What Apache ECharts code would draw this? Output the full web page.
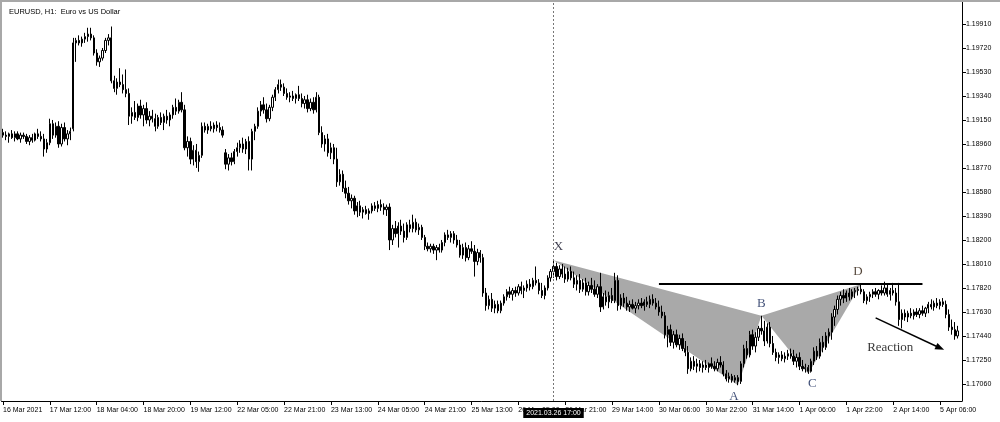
<!DOCTYPE html>
<html>
<head>
<meta charset="utf-8">
<script src="https://cdn.jsdelivr.net/npm/echarts@6/dist/echarts.min.js"></script>
<style>
html,body{margin:0;padding:0;background:#fff;}
#chart{width:1000px;height:422px;}
</style>
</head>
<body>
<div id="chart"></div>
<script>
// ---- data ----
const chartTitle = 'EURUSD, H1:  Euro vs US Dollar';
const tickLabels = ['16 Mar 2021','17 Mar 12:00','18 Mar 04:00','18 Mar 20:00','19 Mar 12:00','22 Mar 05:00','22 Mar 21:00','23 Mar 13:00','24 Mar 05:00','24 Mar 21:00','25 Mar 13:00','26 Mar 05:00','26 Mar 21:00','29 Mar 14:00','30 Mar 06:00','30 Mar 22:00','31 Mar 14:00','1 Apr 06:00','1 Apr 22:00','2 Apr 14:00','5 Apr 06:00'];
const tickEvery = 16;
const yTicks = [1.17060,1.17250,1.17440,1.17630,1.17820,1.18010,1.18200,1.18390,1.18580,1.18770,1.18960,1.19150,1.19340,1.19530,1.19720,1.19910];
const yMin = 1.16925, yMax = 1.20084;
const crossBar = 188;
const crossLabel = '2021.03.26 17:00';
// [open, high, low, close] per hourly bar
const ohlc = [
[1.1905,1.1908,1.1901,1.1903],[1.1903,1.1906,1.1899,1.1902],[1.1902,1.1905,1.1897,1.1904],[1.1904,1.1907,1.1900,1.1901],[1.1901,1.1906,1.1898,1.1904],
[1.1904,1.1906,1.1899,1.1900],[1.1900,1.1905,1.1897,1.1903],[1.1903,1.1905,1.1900,1.1902],[1.1902,1.1904,1.1896,1.1898],[1.1898,1.1903,1.1895,1.1901],
[1.1901,1.1904,1.1897,1.1899],[1.1899,1.1905,1.1898,1.1904],[1.1904,1.1908,1.1900,1.1902],[1.1902,1.1906,1.1898,1.1900],[1.1900,1.1904,1.1886,1.1892],
[1.1892,1.1900,1.1889,1.1897],[1.1897,1.1916,1.1895,1.1912],[1.1912,1.1915,1.1900,1.1903],[1.1903,1.1913,1.1901,1.1910],[1.1910,1.1914,1.1893,1.1896],
[1.1896,1.1912,1.1894,1.1909],[1.1909,1.1913,1.1898,1.1900],[1.1900,1.1907,1.1895,1.1904],[1.1904,1.1909,1.1899,1.1906],[1.1908,1.1980,1.1906,1.1976],
[1.1976,1.1980,1.1961,1.1978],[1.1978,1.1982,1.1974,1.1976],[1.1976,1.1981,1.1973,1.1979],[1.1979,1.1984,1.1976,1.1981],[1.1981,1.1988,1.1977,1.1983],
[1.1983,1.1988,1.1978,1.1980],[1.1980,1.1982,1.1966,1.1968],[1.1968,1.1971,1.1958,1.1961],[1.1961,1.1966,1.1957,1.1964],[1.1964,1.1972,1.1962,1.1970],
[1.1970,1.1980,1.1968,1.1978],[1.1978,1.1983,1.1974,1.1980],[1.1980,1.1989,1.1944,1.1946],[1.1946,1.1950,1.1937,1.1940],[1.1940,1.1948,1.1935,1.1945],
[1.1945,1.1956,1.1941,1.1943],[1.1943,1.1951,1.1936,1.1939],[1.1939,1.1955,1.1933,1.1936],[1.1936,1.1940,1.1911,1.1918],[1.1918,1.1925,1.1912,1.1921],
[1.1921,1.1930,1.1915,1.1917],[1.1917,1.1928,1.1914,1.1926],[1.1926,1.1931,1.1916,1.1919],[1.1919,1.1927,1.1910,1.1924],[1.1924,1.1929,1.1912,1.1915],
[1.1915,1.1922,1.1910,1.1918],[1.1918,1.1923,1.1913,1.1916],[1.1916,1.1920,1.1906,1.1910],[1.1910,1.1919,1.1908,1.1917],[1.1917,1.1921,1.1911,1.1913],
[1.1913,1.1920,1.1907,1.1918],[1.1918,1.1923,1.1912,1.1915],[1.1915,1.1921,1.1910,1.1919],[1.1919,1.1927,1.1916,1.1925],[1.1925,1.1932,1.1919,1.1922],
[1.1922,1.1931,1.1920,1.1929],[1.1929,1.1937,1.1921,1.1923],[1.1923,1.1927,1.1891,1.1893],[1.1893,1.1902,1.1886,1.1898],[1.1898,1.1901,1.1880,1.1884],
[1.1884,1.1895,1.1879,1.1891],[1.1891,1.1896,1.1877,1.1882],[1.1882,1.1890,1.1874,1.1887],[1.1887,1.1913,1.1885,1.1910],[1.1910,1.1913,1.1905,1.1907],
[1.1907,1.1912,1.1904,1.1910],[1.1910,1.1914,1.1906,1.1908],[1.1908,1.1913,1.1905,1.1911],[1.1911,1.1914,1.1906,1.1909],[1.1909,1.1913,1.1905,1.1907],
[1.1907,1.1910,1.1901,1.1903],[1.1889,1.1892,1.1876,1.1880],[1.1880,1.1888,1.1875,1.1885],[1.1885,1.1889,1.1879,1.1882],[1.1882,1.1892,1.1880,1.1890],
[1.1890,1.1897,1.1886,1.1893],[1.1893,1.1899,1.1889,1.1896],[1.1896,1.1901,1.1889,1.1892],[1.1892,1.1900,1.1888,1.1898],[1.1898,1.1902,1.1875,1.1884],
[1.1884,1.1908,1.1875,1.1906],[1.1906,1.1912,1.1899,1.1910],[1.1910,1.1925,1.1908,1.1922],[1.1922,1.1930,1.1918,1.1927],[1.1927,1.1933,1.1920,1.1923],
[1.1923,1.1928,1.1913,1.1916],[1.1916,1.1927,1.1914,1.1925],[1.1925,1.1935,1.1922,1.1933],[1.1933,1.1941,1.1930,1.1939],[1.1939,1.1947,1.1936,1.1943],
[1.1943,1.1947,1.1938,1.1941],[1.1941,1.1944,1.1934,1.1936],[1.1936,1.1940,1.1931,1.1933],[1.1933,1.1937,1.1929,1.1934],[1.1934,1.1938,1.1930,1.1932],
[1.1932,1.1936,1.1928,1.1935],[1.1935,1.1942,1.1930,1.1932],[1.1932,1.1936,1.1925,1.1928],[1.1928,1.1934,1.1924,1.1931],[1.1931,1.1935,1.1921,1.1924],
[1.1924,1.1932,1.1922,1.1929],[1.1929,1.1933,1.1920,1.1923],[1.1923,1.1937,1.1921,1.1933],[1.1933,1.1935,1.1903,1.1905],[1.1905,1.1910,1.1893,1.1896],
[1.1896,1.1903,1.1890,1.1900],[1.1900,1.1904,1.1886,1.1889],[1.1889,1.1897,1.1884,1.1893],[1.1893,1.1896,1.1880,1.1884],[1.1884,1.1893,1.1862,1.1866],
[1.1866,1.1876,1.1863,1.1872],[1.1872,1.1875,1.1858,1.1861],[1.1861,1.1867,1.1853,1.1857],[1.1857,1.1862,1.1848,1.1851],[1.1851,1.1856,1.1845,1.1853],
[1.1853,1.1855,1.1840,1.1843],[1.1843,1.1850,1.1838,1.1847],[1.1847,1.1851,1.1839,1.1842],[1.1842,1.1846,1.1837,1.1844],[1.1844,1.1847,1.1840,1.1841],
[1.1841,1.1845,1.1836,1.1843],[1.1843,1.1849,1.1841,1.1847],[1.1847,1.1850,1.1843,1.1845],[1.1845,1.1851,1.1842,1.1848],[1.1848,1.1852,1.1843,1.1846],
[1.1846,1.1849,1.1840,1.1844],[1.1844,1.1848,1.1839,1.1846],[1.1846,1.1849,1.1812,1.1820],[1.1820,1.1832,1.1816,1.1829],[1.1829,1.1835,1.1822,1.1825],
[1.1825,1.1834,1.1814,1.1831],[1.1831,1.1836,1.1824,1.1827],[1.1827,1.1833,1.1818,1.1822],[1.1822,1.1834,1.1820,1.1832],[1.1832,1.1836,1.1826,1.1829],
[1.1829,1.1840,1.1826,1.1834],[1.1834,1.1837,1.1826,1.1828],[1.1828,1.1833,1.1824,1.1830],[1.1830,1.1832,1.1820,1.1822],[1.1822,1.1824,1.1812,1.1815],
[1.1815,1.1818,1.1811,1.1813],[1.1813,1.1817,1.1810,1.1815],[1.1815,1.1817,1.1809,1.1812],[1.1812,1.1816,1.1804,1.1814],[1.1814,1.1817,1.1810,1.1812],
[1.1812,1.1820,1.1810,1.1818],[1.1818,1.1826,1.1815,1.1824],[1.1824,1.1828,1.1820,1.1822],[1.1822,1.1827,1.1818,1.1825],[1.1825,1.1827,1.1817,1.1820],
[1.1820,1.1824,1.1814,1.1816],[1.1816,1.1820,1.1806,1.1808],[1.1808,1.1817,1.1805,1.1814],[1.1814,1.1818,1.1803,1.1806],[1.1806,1.1816,1.1804,1.1813],
[1.1813,1.1819,1.1809,1.1811],[1.1811,1.1816,1.1791,1.1803],[1.1803,1.1813,1.1800,1.1810],[1.1810,1.1812,1.1802,1.1806],[1.1806,1.1809,1.1775,1.1778],
[1.1778,1.1782,1.1764,1.1768],[1.1768,1.1776,1.1765,1.1773],[1.1773,1.1778,1.1763,1.1766],[1.1766,1.1772,1.1762,1.1769],[1.1769,1.1772,1.1762,1.1764],
[1.1764,1.1772,1.1762,1.1770],[1.1770,1.1777,1.1768,1.1775],[1.1775,1.1781,1.1772,1.1779],[1.1779,1.1783,1.1774,1.1777],[1.1777,1.1782,1.1772,1.1780],
[1.1780,1.1783,1.1775,1.1778],[1.1778,1.1785,1.1776,1.1783],[1.1783,1.1787,1.1777,1.1780],[1.1780,1.1784,1.1774,1.1782],[1.1782,1.1788,1.1779,1.1785],
[1.1785,1.1789,1.1780,1.1783],[1.1783,1.1790,1.1781,1.1788],[1.1788,1.1799,1.1784,1.1786],[1.1786,1.1789,1.1777,1.1780],[1.1780,1.1786,1.1774,1.1776],
[1.1776,1.1784,1.1773,1.1782],[1.1782,1.1792,1.1780,1.1790],[1.1790,1.1797,1.1787,1.1795],[1.1795,1.1804,1.1790,1.1799],[1.1799,1.1802,1.1788,1.1791],
[1.1791,1.1800,1.1789,1.1797],[1.1797,1.1801,1.1790,1.1793],[1.1793,1.1799,1.1786,1.1789],[1.1789,1.1798,1.1787,1.1795],[1.1795,1.1799,1.1788,1.1790],
[1.1790,1.1795,1.1782,1.1785],[1.1785,1.1792,1.1780,1.1788],[1.1788,1.1793,1.1778,1.1781],[1.1781,1.1789,1.1779,1.1786],[1.1786,1.1790,1.1776,1.1779],
[1.1779,1.1787,1.1776,1.1784],[1.1784,1.1790,1.1778,1.1781],[1.1781,1.1788,1.1775,1.1777],[1.1777,1.1785,1.1774,1.1783],[1.1783,1.1794,1.1763,1.1767],
[1.1767,1.1778,1.1765,1.1775],[1.1775,1.1780,1.1768,1.1771],[1.1771,1.1779,1.1766,1.1776],[1.1776,1.1782,1.1770,1.1772],[1.1772,1.1794,1.1770,1.1788],
[1.1788,1.1792,1.1764,1.1768],[1.1768,1.1777,1.1765,1.1774],[1.1774,1.1778,1.1767,1.1770],[1.1770,1.1775,1.1764,1.1767],[1.1767,1.1772,1.1763,1.1769],
[1.1769,1.1773,1.1765,1.1766],[1.1766,1.1771,1.1762,1.1768],[1.1768,1.1773,1.1765,1.1770],[1.1770,1.1774,1.1766,1.1768],[1.1768,1.1773,1.1764,1.1771],
[1.1771,1.1775,1.1767,1.1769],[1.1769,1.1776,1.1766,1.1773],[1.1773,1.1777,1.1768,1.1770],[1.1770,1.1774,1.1765,1.1767],[1.1767,1.1772,1.1760,1.1763],
[1.1763,1.1768,1.1758,1.1760],[1.1760,1.1763,1.1742,1.1745],[1.1745,1.1752,1.1735,1.1749],[1.1749,1.1753,1.1736,1.1739],[1.1739,1.1748,1.1734,1.1745],
[1.1745,1.1749,1.1735,1.1737],[1.1737,1.1745,1.1733,1.1742],[1.1742,1.1746,1.1732,1.1734],[1.1734,1.1740,1.1728,1.1731],[1.1731,1.1736,1.1714,1.1718],
[1.1718,1.1727,1.1716,1.1724],[1.1724,1.1728,1.1717,1.1720],[1.1720,1.1726,1.1715,1.1722],[1.1722,1.1725,1.1716,1.1719],[1.1719,1.1724,1.1715,1.1721],
[1.1721,1.1725,1.1717,1.1719],[1.1719,1.1723,1.1715,1.1722],[1.1722,1.1727,1.1718,1.1720],[1.1720,1.1724,1.1716,1.1718],[1.1718,1.1726,1.1716,1.1723],
[1.1723,1.1728,1.1719,1.1721],[1.1721,1.1724,1.1712,1.1714],[1.1714,1.1717,1.1708,1.1710],[1.1710,1.1715,1.1707,1.1712],[1.1712,1.1714,1.1707,1.1709],
[1.1709,1.1713,1.1707,1.1711],[1.1711,1.1713,1.1705,1.1708],[1.1708,1.1724,1.1706,1.1722],[1.1722,1.1737,1.1719,1.1734],[1.1734,1.1740,1.1726,1.1729],
[1.1729,1.1748,1.1727,1.1745],[1.1745,1.1749,1.1733,1.1736],[1.1736,1.1747,1.1731,1.1743],[1.1743,1.1752,1.1740,1.1750],[1.1750,1.1760,1.1745,1.1748],
[1.1748,1.1756,1.1736,1.1740],[1.1740,1.1754,1.1738,1.1751],[1.1751,1.1755,1.1735,1.1738],[1.1738,1.1744,1.1729,1.1731],[1.1731,1.1734,1.1724,1.1727],
[1.1727,1.1731,1.1722,1.1729],[1.1729,1.1732,1.1724,1.1726],[1.1726,1.1731,1.1723,1.1728],[1.1728,1.1733,1.1725,1.1730],[1.1730,1.1734,1.1726,1.1728],
[1.1728,1.1733,1.1721,1.1724],[1.1724,1.1730,1.1719,1.1727],[1.1727,1.1731,1.1717,1.1720],[1.1720,1.1725,1.1716,1.1718],[1.1718,1.1722,1.1715,1.1719],
[1.1719,1.1721,1.1714,1.1716],[1.1716,1.1726,1.1715,1.1724],[1.1724,1.1735,1.1721,1.1732],[1.1732,1.1736,1.1725,1.1728],[1.1728,1.1742,1.1726,1.1739],
[1.1739,1.1744,1.1731,1.1735],[1.1735,1.1747,1.1733,1.1744],[1.1744,1.1750,1.1738,1.1747],[1.1747,1.1762,1.1741,1.1759],[1.1759,1.1768,1.1752,1.1765],
[1.1765,1.1776,1.1761,1.1773],[1.1773,1.1779,1.1768,1.1776],[1.1776,1.1781,1.1770,1.1774],[1.1774,1.1780,1.1771,1.1778],[1.1778,1.1782,1.1772,1.1775],
[1.1775,1.1781,1.1773,1.1779],[1.1779,1.1782,1.1774,1.1780],[1.1780,1.1783,1.1776,1.1781],[1.1781,1.1785,1.1777,1.1779],[1.1779,1.1781,1.1770,1.1772],
[1.1772,1.1777,1.1769,1.1775],[1.1775,1.1779,1.1771,1.1777],[1.1777,1.1781,1.1774,1.1779],[1.1779,1.1782,1.1775,1.1777],[1.1777,1.1781,1.1773,1.1780],
[1.1780,1.1784,1.1776,1.1778],[1.1778,1.1787,1.1776,1.1782],[1.1782,1.1785,1.1775,1.1777],[1.1777,1.1782,1.1772,1.1780],[1.1780,1.1786,1.1776,1.1778],
[1.1778,1.1782,1.1768,1.1771],[1.1771,1.1786,1.1752,1.1757],[1.1757,1.1765,1.1750,1.1762],[1.1762,1.1765,1.1756,1.1759],[1.1759,1.1764,1.1755,1.1762],
[1.1762,1.1766,1.1758,1.1760],[1.1760,1.1765,1.1757,1.1763],[1.1763,1.1766,1.1759,1.1761],[1.1761,1.1766,1.1758,1.1764],[1.1764,1.1768,1.1760,1.1762],
[1.1762,1.1767,1.1759,1.1766],[1.1766,1.1771,1.1762,1.1769],[1.1769,1.1773,1.1765,1.1767],[1.1767,1.1772,1.1764,1.1770],[1.1770,1.1774,1.1766,1.1768],
[1.1768,1.1773,1.1765,1.1771],[1.1771,1.1774,1.1767,1.1769],[1.1769,1.1772,1.1758,1.1761],[1.1761,1.1765,1.1748,1.1751],[1.1751,1.1757,1.1745,1.1749],
[1.1749,1.1755,1.1741,1.1744],[1.1744,1.1752,1.1742,1.1748]
];
const slotCount = 328;
// harmonic pattern pivots
const pivotNames  = ['X','A','B','C','D'];
const pivotBars   = [188, 251, 259, 275, 293];
const pivotPrices = [1.1804, 1.1705, 1.1760, 1.1714, 1.1785];
const resistance = {fromBar: 224, toBar: 314, price: 1.1785};
const arrowFrom = [298, 1.17583], arrowTo = [320, 1.17345];
const reactionText = 'Reaction';
const reactionAt = [303, 1.17345];

// ---- chart ----
const chart = echarts.init(document.getElementById('chart'), null, {renderer: 'canvas'});
const cats = Array.from({length: slotCount}, (_, i) => String(i));
const candleData = ohlc.map(b => [b[0], b[3], b[2], b[1]]);
const pv = i => [pivotBars[i], pivotPrices[i]];
const triangles = [[...pv(0), ...pv(1), ...pv(2)], [...pv(2), ...pv(3), ...pv(4)]];
const labelCfg = {
  X: {position: 'top', distance: 7, offset: [5, 0]},
  A: {position: 'bottom', distance: 5, offset: [-4, 0]},
  B: {position: 'top', distance: 6, offset: [0, 0]},
  C: {position: 'bottom', distance: 3, offset: [4, 0]},
  D: {position: 'top', distance: 6, offset: [-3, 0]}
};
const labelColor = {X: '#0c0c22', A: '#112456', B: '#112456', C: '#112456', D: '#281608'};
const FONT = 'Liberation Sans';
const SERIF = 'Liberation Serif';

chart.setOption({
  animation: false,
  backgroundColor: '#fff',
  title: {
    text: chartTitle, left: 4, top: 3,
    textStyle: {fontSize: 7.5, fontWeight: 'normal', fontFamily: FONT, color: '#000'}
  },
  grid: {left: 1, right: 38, top: 2, bottom: 21, containLabel: false},
  xAxis: {
    type: 'category', data: cats, boundaryGap: true,
    axisLine: {lineStyle: {color: '#000', width: 1}},
    axisTick: {show: true, interval: tickEvery - 1, alignWithLabel: true, length: 4, lineStyle: {color: '#000'}},
    axisLabel: {
      interval: tickEvery - 1, align: 'left', margin: 6, color: '#000', fontSize: 7, fontFamily: FONT,
      formatter: (v, idx) => (idx % tickEvery === 0 ? (tickLabels[idx / tickEvery] || '') : '')
    },
    splitLine: {show: false}
  },
  yAxis: {
    type: 'value', position: 'right', min: yMin, max: yMax, scale: true,
    axisLine: {show: true, lineStyle: {color: '#000', width: 1}},
    axisTick: {show: true, length: 4, customValues: yTicks, lineStyle: {color: '#000'}},
    axisLabel: {customValues: yTicks, margin: 4, color: '#000', fontSize: 7, fontFamily: FONT,
      formatter: v => v.toFixed(5)},
    splitLine: {show: false}
  },
  graphic: [
    {type: 'line', shape: {x1: 0, y1: 1, x2: 1000, y2: 1}, style: {stroke: '#a8a8a8', lineWidth: 2}, z: 100},
    {type: 'line', shape: {x1: 1, y1: 0, x2: 1, y2: 401}, style: {stroke: '#a8a8a8', lineWidth: 2}, z: 100}
  ],
  series: [
    {
      type: 'custom', z: 1, silent: true,
      data: triangles,
      renderItem: (params, api) => {
        const pts = [0, 1, 2].map(k => api.coord([api.value(k * 2), api.value(k * 2 + 1)]));
        return {type: 'polygon', shape: {points: pts}, style: {fill: '#a9a9a9', stroke: null}};
      },
      encode: {x: [0, 2, 4], y: [1, 3, 5]}
    },
    {
      type: 'candlestick', z: 3, data: candleData, barWidth: 1.8,
      itemStyle: {color: '#ffffff', color0: '#000000', borderColor: '#000000', borderColor0: '#000000', borderWidth: 1},
      markLine: {
        silent: true, symbol: 'none', animation: false,
        lineStyle: {color: '#777', type: [2, 2], width: 1},
        label: {show: true, position: 'start', formatter: crossLabel, backgroundColor: '#000', color: '#fff',
          fontSize: 7, fontFamily: FONT, padding: [2, 3, 1, 3], distance: 7},
        data: [{xAxis: crossBar}]
      }
    },
    {
      type: 'scatter', z: 5, symbolSize: 0, silent: true,
      data: pivotNames.map((n, i) => ({
        value: [pivotBars[i], pivotPrices[i]], name: n,
        label: Object.assign({show: true, formatter: n, color: labelColor[n], fontSize: 13, fontFamily: SERIF}, labelCfg[n])
      })),
      markLine: {
        silent: true, animation: false,
        data: [
          [{coord: [resistance.fromBar, resistance.price], symbol: 'none'},
           {coord: [resistance.toBar, resistance.price], symbol: 'none', lineStyle: {color: '#000', width: 2, type: 'solid'}}],
          [{coord: arrowFrom, symbol: 'none'},
           {coord: arrowTo, symbol: 'triangle', symbolSize: [7, 9], lineStyle: {color: '#000', width: 1.5, type: 'solid'}}]
        ],
        lineStyle: {color: '#000', type: 'solid'},
        label: {show: false}
      }
    },
    {
      type: 'scatter', z: 5, symbolSize: 0, silent: true,
      data: [{value: reactionAt, label: {show: true, position: 'inside', formatter: reactionText, color: '#000', fontSize: 13, fontFamily: SERIF}}]
    }
  ]
});
</script>
</body>
</html>
